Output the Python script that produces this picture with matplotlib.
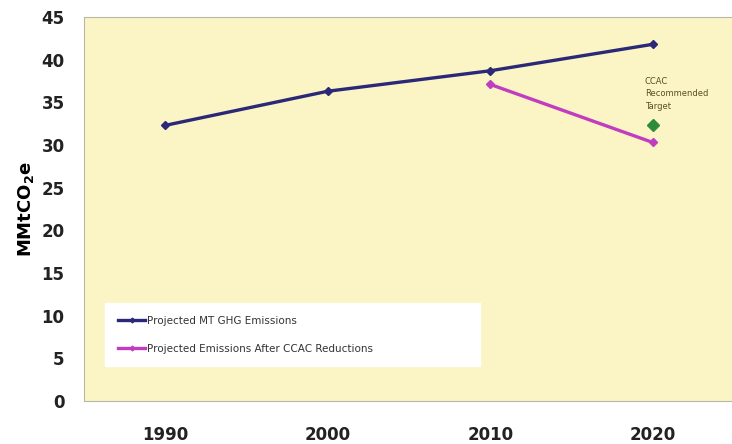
import matplotlib.pyplot as plt

years = ['1990', '2000', '2010', '2020']
projected = [32.3, 36.3, 38.7, 41.8]
after_years = [2, 3]
after_ccac = [37.1, 30.3]
target_pos = 3
target = 32.3

fig = plt.figure(figsize=(7.32, 4.44), dpi=100)
ax = fig.add_axes([84 / 732, 43 / 444, 650 / 732, 384 / 444])
ax.set_facecolor('#fbf4c4')

ax.plot(range(len(years)), projected, color='#2b2878', lw=2.4, marker='D', ms=4,
        label='Projected MT GHG Emissions')
ax.plot(after_years, after_ccac, color='#c03cc0', lw=2.4, marker='D', ms=4,
        label='Projected Emissions After CCAC Reductions')
ax.plot([target_pos], [target], marker='D', ms=6, color='#2e8b3a', ls='none')
ax.text(target_pos - 0.05, target + 1.7, 'CCAC\nRecommended\nTarget', fontsize=6,
        color='#5a5020', ha='left', va='bottom', linespacing=1.5)

ax.set_xlim(-0.5, 3.5)
ax.set_ylim(0, 45)
ax.set_xticks(range(len(years)))
ax.set_xticklabels(years)
ax.set_yticks(range(0, 46, 5))
for lab in ax.get_xticklabels() + ax.get_yticklabels():
    lab.set_fontweight('bold')
    lab.set_fontsize(12)
    lab.set_color('#222222')
ax.tick_params(axis='both', length=0)
ax.tick_params(axis='x', pad=18)
ax.tick_params(axis='y', pad=14)
ax.set_ylabel('MMtCO$_\\mathbf{2}$e', fontsize=13, fontweight='bold', labelpad=4)

for side in ['top', 'bottom', 'left', 'right']:
    ax.spines[side].set_color('#b8b8a8')
ax.spines['right'].set_visible(False)

leg = ax.legend(loc='upper left', bbox_to_anchor=(0.025, 0.104, 0.592, 0.164),
                mode='expand', fontsize=7.5, frameon=True, fancybox=False,
                handlelength=2.6, borderpad=1.2, labelspacing=1.7, handletextpad=0.2,
                markerscale=0.6)
leg.get_frame().set_facecolor('white')
leg.get_frame().set_edgecolor('white')
leg.get_frame().set_alpha(1)
for t in leg.get_texts():
    t.set_color('#333333')

fig.savefig('out.png', dpi=100)
